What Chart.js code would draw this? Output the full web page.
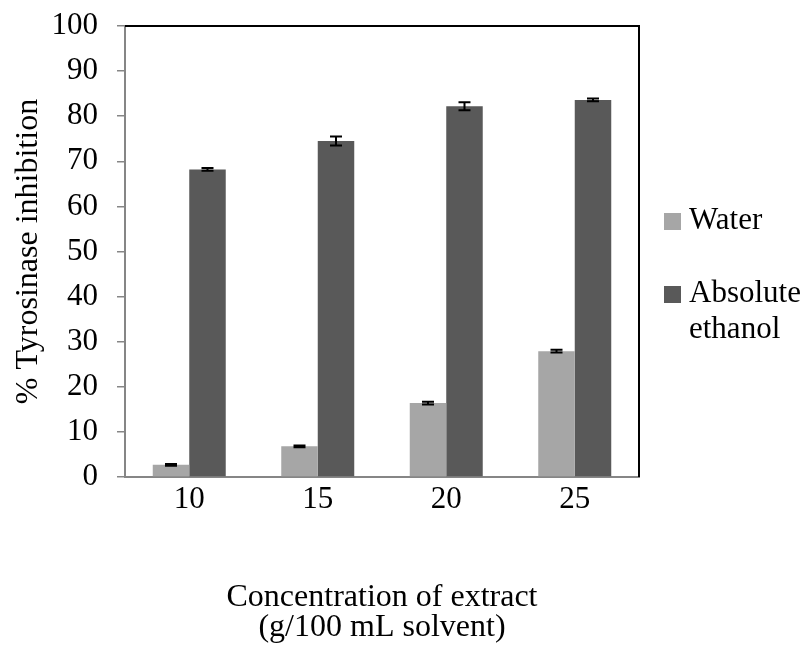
<!DOCTYPE html>
<html>
<head>
<meta charset="utf-8">
<script src="https://cdn.jsdelivr.net/npm/chart.js@4.4.1/dist/chart.umd.min.js"></script>
<style>
  html, body { margin: 0; padding: 0; background: #fff; }
  #wrap { width: 806px; height: 646px; position: relative; }
</style>
</head>
<body>
<div id="wrap"><canvas id="c" width="806" height="646"></canvas></div>
<script>
// Concentration of extract (g/100 mL solvent)
const categories = ['10', '15', '20', '25'];
// % tyrosinase inhibition by solvent
const waterValues = [2.7, 6.8, 16.4, 27.9];
const waterErrors = [0.2, 0.2, 0.3, 0.3];
const ethanolValues = [68.2, 74.5, 82.2, 83.6];
const ethanolErrors = [0.3, 1.0, 0.9, 0.3];
const seriesNames = ['Water', ['Absolute', 'ethanol']];
const yTicks = [0, 10, 20, 30, 40, 50, 60, 70, 80, 90, 100];

const FONT = '"Liberation Serif", "Times New Roman", serif';
const errors = [waterErrors, ethanolErrors];

const extrasPlugin = {
  id: 'extras',
  afterDatasetsDraw(chart) {
    const ctx = chart.ctx;
    const y = chart.scales.y;
    // error bars
    ctx.save();
    ctx.strokeStyle = '#000';
    ctx.lineWidth = 2;
    chart.data.datasets.forEach((ds, di) => {
      const meta = chart.getDatasetMeta(di);
      meta.data.forEach((el, i) => {
        const v = ds.data[i], e = errors[di][i];
        const y1 = y.getPixelForValue(v + e), y2 = y.getPixelForValue(v - e);
        const x = el.x;
        ctx.beginPath();
        ctx.moveTo(x, y1); ctx.lineTo(x, y2);
        ctx.moveTo(x - 6, y1); ctx.lineTo(x + 6, y1);
        ctx.moveTo(x - 6, y2); ctx.lineTo(x + 6, y2);
        ctx.stroke();
      });
    });
    ctx.restore();
  },
  afterDraw(chart) {
    const ctx = chart.ctx;
    const a = chart.chartArea;
    ctx.save();
    // top and right frame lines
    ctx.strokeStyle = '#000';
    ctx.lineWidth = 2;
    ctx.beginPath();
    ctx.moveTo(a.left, a.top);
    ctx.lineTo(a.right, a.top);
    ctx.lineTo(a.right, a.bottom);
    ctx.stroke();

    // axis titles
    ctx.fillStyle = '#000';
    ctx.font = '32px ' + FONT;
    ctx.textAlign = 'center';
    ctx.textBaseline = 'middle';
    const cx = (a.left + a.right) / 2;
    ctx.fillText('Concentration of extract', cx, 598);
    ctx.fillText('(g/100 mL solvent)', cx, 628);
    ctx.save();
    ctx.translate(29, (a.top + a.bottom) / 2);
    ctx.rotate(-Math.PI / 2);
    ctx.fillText('% Tyrosinase inhibition', 0, 0);
    ctx.restore();

    // legend
    ctx.font = '31px ' + FONT;
    ctx.textAlign = 'left';
    const legendX = a.right + 25;
    const rows = [221, 294];
    chart.data.datasets.forEach((ds, di) => {
      const yc = rows[di];
      ctx.fillStyle = ds.backgroundColor;
      ctx.fillRect(legendX, yc - 8, 17, 17);
      ctx.fillStyle = '#000';
      const lines = Array.isArray(seriesNames[di]) ? seriesNames[di] : [seriesNames[di]];
      lines.forEach((t, li) => ctx.fillText(t, legendX + 25, yc + li * 36));
    });
    ctx.restore();
  }
};

new Chart(document.getElementById('c'), {
  type: 'bar',
  data: {
    labels: categories,
    datasets: [
      { label: 'Water', data: waterValues, backgroundColor: '#a6a6a6' },
      { label: 'Absolute ethanol', data: ethanolValues, backgroundColor: '#595959' }
    ]
  },
  options: {
    responsive: false,
    animation: false,
    devicePixelRatio: 1,
    layout: { padding: { top: 26, right: 167, left: 0, bottom: 0 } },
    plugins: { legend: { display: false }, tooltip: { enabled: false } },
    datasets: { bar: { categoryPercentage: 0.568, barPercentage: 1.0 } },
    scales: {
      x: {
        grid: { display: false, drawTicks: false },
        border: { display: true, color: '#868686', width: 2 },
        ticks: { color: '#000', font: { family: FONT, size: 31 }, padding: 4, maxRotation: 0 },
        afterFit(s) { s.height = 169; s.paddingLeft = 0; s.paddingRight = 0; }
      },
      y: {
        min: 0, max: 100,
        afterBuildTicks(s) { s.ticks = yTicks.map(v => ({ value: v })); },
        grid: { drawOnChartArea: false, drawTicks: true, tickLength: 8, color: '#868686', lineWidth: 1.5 },
        border: { display: true, color: '#868686', width: 2 },
        ticks: { color: '#000', font: { family: FONT, size: 31 }, padding: 19 },
        afterFit(s) { s.width = 125; s.paddingTop = 0; s.paddingBottom = 0; }
      }
    }
  },
  plugins: [extrasPlugin]
});
</script>
</body>
</html>
